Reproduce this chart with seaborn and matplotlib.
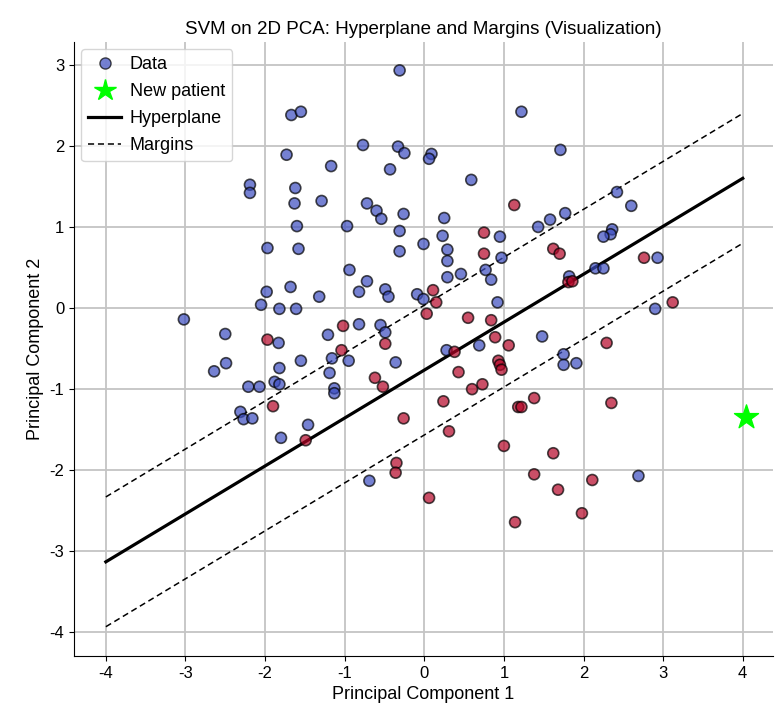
import numpy as np
import pandas as pd
import seaborn as sns
import matplotlib.pyplot as plt
from matplotlib.lines import Line2D

# PCA coordinates, split by class
blue_pc1 = [-2.19, -2.19, -0.31, -1.67, -1.55, -0.77, -0.33, -0.25, -1.73, -1.17, -0.43, -1.62, -1.63, -1.29,
            -0.72, -0.60, -0.54, -0.26, 1.22, 0.09, 0.06, 1.71, 0.59, 0.25, 1.58, 1.77, 2.42, 2.60,
            -1.97, -1.98, -2.05, -3.02, -2.50, -2.49, -2.64, -1.60, -0.97, -0.31, -0.01, -1.58, -0.31, -0.94,
            -0.72, -1.68, -0.82, -0.49, -0.45, -1.32, -0.09, -0.01, -1.82, -1.61, -0.82, -0.55, -0.49, -1.21,
            -1.83, -1.16, -0.95, -1.55, -0.36, -1.82, -1.19, 1.43, 0.23, 0.95, 0.29, 0.29, 0.97, 0.29, 0.46,
            0.77, 0.84, 1.82, 0.92, 1.48, 0.69, 0.28, 1.75, 1.75, 1.91, 2.36, 2.34, 2.25, 2.93, 2.15, 2.25,
            2.90, -2.21, -2.07, -2.31, -2.27, -2.16, -1.88, -1.82, -1.13, -1.13, -1.46, -1.80, -0.69, 2.69]
blue_pc2 = [1.52, 1.42, 2.93, 2.38, 2.42, 2.01, 1.99, 1.91, 1.89, 1.75, 1.71, 1.48, 1.29, 1.32,
            1.29, 1.20, 1.10, 1.16, 2.42, 1.90, 1.84, 1.95, 1.58, 1.11, 1.09, 1.17, 1.43, 1.26,
            0.74, 0.20, 0.04, -0.14, -0.32, -0.68, -0.78, 1.01, 1.01, 0.95, 0.79, 0.73, 0.70, 0.47,
            0.33, 0.26, 0.20, 0.23, 0.14, 0.14, 0.17, 0.11, -0.01, -0.01, -0.20, -0.21, -0.30, -0.33,
            -0.43, -0.62, -0.65, -0.65, -0.67, -0.74, -0.80, 1.00, 0.89, 0.88, 0.72, 0.58, 0.62, 0.38, 0.42,
            0.47, 0.35, 0.39, 0.07, -0.35, -0.46, -0.52, -0.57, -0.70, -0.68, 0.97, 0.91, 0.88, 0.62, 0.49, 0.49,
            -0.01, -0.97, -0.97, -1.28, -1.37, -1.36, -0.91, -0.94, -0.99, -1.05, -1.44, -1.60, -2.13, -2.07]

red_pc1 = [1.13, -1.97, 0.03, -1.02, -0.49, -1.04, -0.62, 0.75, 0.75, 1.62, 1.70, 1.81, 1.86, 0.11, 0.15,
           0.55, 0.84, 0.89, 1.06, 0.38, 0.93, 0.95, 0.97, 0.43, 2.76, 3.12, 2.29, -0.52, -1.90, -0.26,
           -1.49, -0.35, -0.36, 0.06, 0.60, 0.73, 0.24, 1.18, 1.22, 1.38, 0.31, 1.00, 1.62, 1.38, 1.68,
           1.14, 1.98, 2.35, 2.11]
red_pc2 = [1.27, -0.39, -0.07, -0.22, -0.44, -0.52, -0.86, 0.93, 0.67, 0.73, 0.67, 0.32, 0.33, 0.22, 0.07,
           -0.12, -0.15, -0.36, -0.46, -0.54, -0.65, -0.70, -0.76, -0.79, 0.62, 0.07, -0.43, -0.97, -1.21, -1.36,
           -1.63, -1.91, -2.03, -2.34, -1.00, -0.94, -1.15, -1.22, -1.22, -1.11, -1.52, -1.70, -1.79, -2.05, -2.24,
           -2.64, -2.53, -1.17, -2.12]

new_patient = (4.04, -1.34)

# hyperplane y = slope*x + intercept, margins shifted by +/- margin
slope = 0.591
intercept = -0.765
margin = 0.80
line_x = np.array([-4.0, 4.0])

df = pd.DataFrame({
    "pc1": blue_pc1 + red_pc1,
    "pc2": blue_pc2 + red_pc2,
    "cls": [0] * len(blue_pc1) + [1] * len(red_pc1),
})

plt.rcParams["font.family"] = ["Liberation Sans", "DejaVu Sans"]
plt.rcParams["axes.unicode_minus"] = False
fig = plt.figure(figsize=(7.77, 7.13), dpi=100)
ax = fig.add_axes([74 / 777, 1 - 656 / 713, 699 / 777, 614 / 713])

cmap = plt.get_cmap("coolwarm")
sns.scatterplot(data=df, x="pc1", y="pc2", hue="cls", palette={0: cmap(0.0), 1: cmap(1.0)},
                s=62, alpha=0.7, edgecolor="k", linewidth=1.2, legend=False, ax=ax, zorder=3)
ax.scatter([new_patient[0]], [new_patient[1]], marker="*", s=330, color="lime", zorder=4)
ax.plot(line_x, slope * line_x + intercept, color="k", lw=2.3, zorder=2)
ax.plot(line_x, slope * line_x + intercept + margin, color="k", lw=1.1, ls=(0, (4, 2.5)), zorder=2)
ax.plot(line_x, slope * line_x + intercept - margin, color="k", lw=1.1, ls=(0, (4, 2.5)), zorder=2)

ax.set_xlim(-4.4, 4.38)
ax.set_ylim(-4.29, 3.28)
ax.set_xticks(range(-4, 5))
ax.set_yticks(range(-4, 4))
ax.grid(True, color="#c4c4c4", lw=1.3)
ax.set_axisbelow(True)
ax.tick_params(labelsize=12)
for side in ["top", "right"]:
    ax.spines[side].set_visible(False)
ax.set_xlabel("Principal Component 1", fontsize=13)
ax.set_ylabel("Principal Component 2", fontsize=13)
ax.set_title("SVM on 2D PCA: Hyperplane and Margins (Visualization)", fontsize=13.5)

handles = [
    Line2D([], [], ls="", marker="o", markersize=8, markerfacecolor=cmap(0.0), alpha=0.7,
           markeredgecolor="k", label="Data"),
    Line2D([], [], ls="", marker="*", markersize=16, color="lime", label="New patient"),
    Line2D([], [], color="k", lw=2.3, label="Hyperplane"),
    Line2D([], [], color="k", lw=1.1, ls=(0, (4, 2.5)), label="Margins"),
]
ax.legend(handles=handles, loc="upper left", fontsize=13, handlelength=1.8,
          borderaxespad=0.4, handletextpad=0.5, labelspacing=0.55)

fig.savefig("out.png", dpi=100)
